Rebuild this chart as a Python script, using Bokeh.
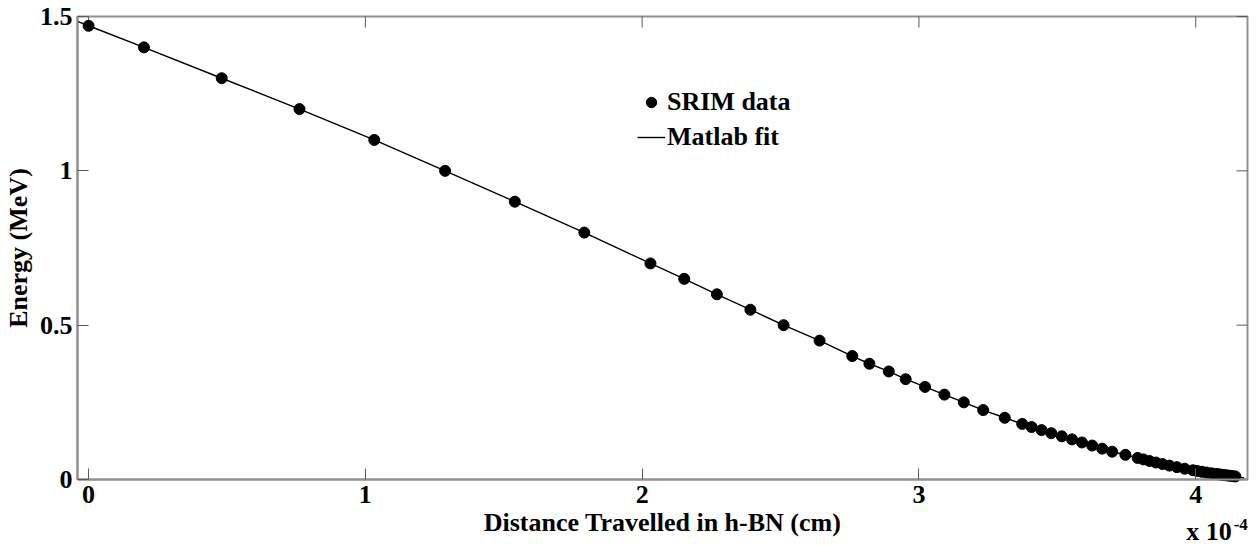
from bokeh.plotting import figure
from bokeh.models import (Range1d, FixedTicker, Legend, LegendItem,
                          Label, ColumnDataSource, CustomJSTickFormatter)
from bokeh.embed import file_html
from bokeh.resources import INLINE

# SRIM data: distance travelled (x 1e-4 cm) and energy (MeV)
dist = [0.0, 0.200, 0.481, 0.762, 1.032, 1.288, 1.540, 1.791, 2.030, 2.152,
        2.270, 2.391, 2.511, 2.641, 2.759, 2.821, 2.891, 2.952, 3.022, 3.092,
        3.162, 3.232, 3.310, 3.373, 3.407, 3.443, 3.478, 3.516, 3.553, 3.589,
        3.626, 3.662, 3.698, 3.746, 3.790, 3.811, 3.833, 3.856, 3.880, 3.905,
        3.932, 3.960, 3.990, 4.005, 4.022, 4.039, 4.057, 4.073, 4.081, 4.089,
        4.097, 4.106, 4.115, 4.124, 4.133, 4.143]
energy = [1.47, 1.40, 1.30, 1.20, 1.10, 1.00, 0.90, 0.80, 0.70, 0.65,
          0.60, 0.55, 0.50, 0.45, 0.40, 0.375, 0.35, 0.325, 0.30, 0.275,
          0.25, 0.225, 0.20, 0.18, 0.17, 0.16, 0.15, 0.14, 0.13, 0.12,
          0.11, 0.10, 0.09, 0.08, 0.07, 0.065, 0.06, 0.055, 0.05, 0.045,
          0.04, 0.035, 0.03, 0.0275, 0.025, 0.0225, 0.02, 0.018, 0.017, 0.016,
          0.015, 0.014, 0.013, 0.012, 0.011, 0.010]

# Matlab fit curve (follows the data, slightly extended at both ends)
fit_x = [-0.04] + dist + [4.175]
fit_y = [1.484] + energy + [0.005]

x_ticks = [0, 1, 2, 3, 4]
y_ticks = [0, 0.5, 1, 1.5]

# axes box limits
X0, X1 = -0.04, 4.187
Y0, Y1 = 0.0, 1.5

W, H = 1257, 546
BOX_L, BOX_R, BOX_T, BOX_B = 77, 1247, 16, 479   # box edges in canvas pixels
sx = (BOX_R - BOX_L) / (X1 - X0)
sy = (BOX_B - BOX_T) / (Y1 - Y0)
XR0 = X0 - BOX_L / sx
XR1 = X1 + (W - BOX_R) / sx
YR0 = Y0 - (H - BOX_B) / sy
YR1 = Y1 + BOX_T / sy

FONT = "Liberation Serif"
FS = "26px"
GRAY = "#8f8f8f"
TICK = "#5a5a5a"

p = figure(width=W, height=H, output_backend="svg", toolbar_location=None,
           x_range=Range1d(XR0, XR1), y_range=Range1d(YR0, YR1),
           min_border=0, min_border_left=0, min_border_right=0,
           min_border_top=0, min_border_bottom=0,
           background_fill_color="white", border_fill_color="white")
p.grid.visible = False
p.outline_line_color = None

# axes box
p.quad(left=[X0], right=[X1], bottom=[Y0], top=[Y1], fill_color=None,
       line_color=GRAY, line_width=2)

fmt = CustomJSTickFormatter(code="return tick.toString();")

for ax in p.xaxis:
    ax.ticker = FixedTicker(ticks=x_ticks)
    ax.formatter = fmt
    ax.axis_label = "Distance Travelled in h-BN (cm)"
    ax.fixed_location = Y0
    ax.bounds = (X0, X1)
for ax in p.yaxis:
    ax.ticker = FixedTicker(ticks=y_ticks)
    ax.formatter = fmt
    ax.axis_label = "Energy (MeV)"
    ax.fixed_location = X0
    ax.bounds = (Y0, Y1)

for ax in list(p.xaxis) + list(p.yaxis):
    ax.axis_line_color = GRAY
    ax.axis_line_width = 2
    ax.major_tick_in = 11
    ax.major_tick_out = 0
    ax.major_tick_line_color = TICK
    ax.minor_tick_line_color = None
    ax.major_label_text_font = FONT
    ax.major_label_text_font_size = FS
    ax.major_label_text_font_style = "bold"
    ax.major_label_text_color = "black"
    ax.axis_label_text_font = FONT
    ax.axis_label_text_font_size = FS
    ax.axis_label_text_font_style = "bold"
    ax.axis_label_text_color = "black"

p.xaxis.major_label_standoff = 6
p.xaxis.axis_label_standoff = 2
p.yaxis.major_label_standoff = 5
p.yaxis.axis_label_standoff = 4

# Box ticks on top and right (MATLAB style), drawn at the tick values
tick_len_y = 11 / sy
tick_len_x = 11 / sx
p.segment(x0=x_ticks, y0=[Y1] * len(x_ticks), x1=x_ticks,
          y1=[Y1 - tick_len_y] * len(x_ticks), line_color=TICK, line_width=1)
p.segment(x0=[X1] * len(y_ticks), y0=y_ticks, x1=[X1 - tick_len_x] * len(y_ticks),
          y1=y_ticks, line_color=TICK, line_width=1)

src = ColumnDataSource(dict(x=dist, y=energy))
fit_src = ColumnDataSource(dict(x=fit_x, y=fit_y))
ln = p.line("x", "y", source=fit_src, line_color="black", line_width=1.4)
sc = p.scatter("x", "y", source=src, size=11, fill_color="black", line_color="black")

legend = Legend(items=[LegendItem(label="SRIM data", renderers=[sc]),
                       LegendItem(label="Matlab fit", renderers=[ln])],
                location=(637, 394), orientation="vertical",
                label_text_font=FONT, label_text_font_size=FS,
                label_text_font_style="bold", label_text_color="black",
                glyph_width=28, glyph_height=26, label_height=26,
                label_standoff=2, spacing=5, padding=0, margin=0,
                border_line_alpha=0, background_fill_alpha=0)
p.add_layout(legend, "center")

# axis multiplier "x 10^-4"
p.add_layout(Label(x=3.966, y=Y0 - 66 / sy, text="x 10", text_font=FONT,
                   text_font_size=FS, text_font_style="bold", text_color="black",
                   text_baseline="bottom"))
p.add_layout(Label(x=4.137, y=Y0 - 50 / sy, text="-4", text_font=FONT,
                   text_font_size="17px", text_font_style="bold", text_color="black",
                   text_baseline="bottom"))

open("out.html", "w").write(file_html(p, INLINE))
